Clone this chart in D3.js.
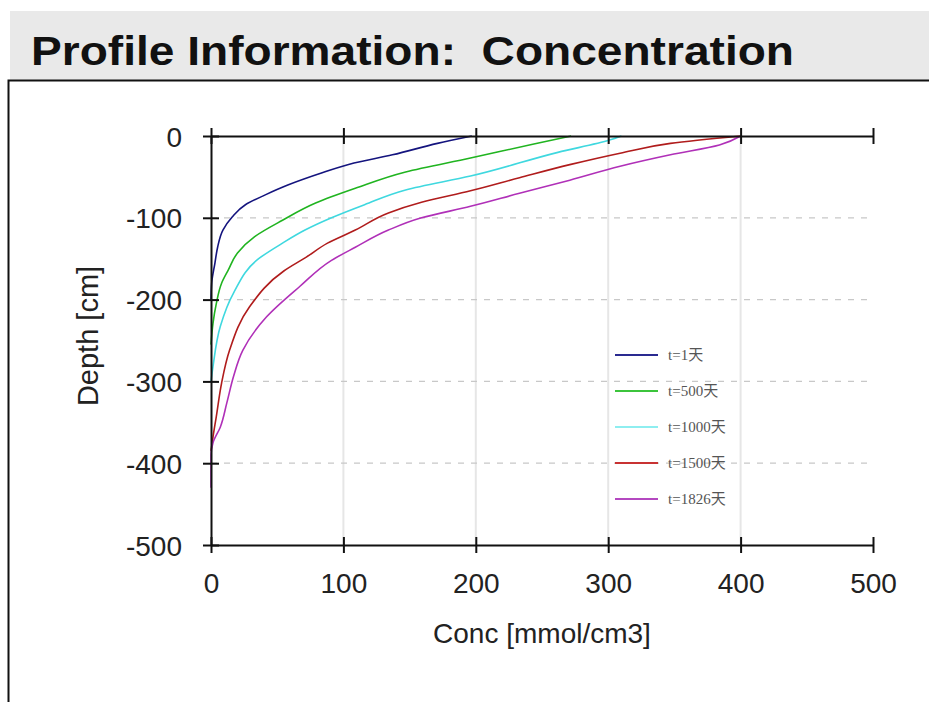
<!DOCTYPE html>
<html>
<head>
<meta charset="utf-8">
<script src="https://cdn.jsdelivr.net/npm/d3@7"></script>
<style>
  html, body { margin: 0; padding: 0; background: #ffffff; }
  svg { display: block; }
  text { white-space: pre; }
</style>
</head>
<body>
<svg id="chart" width="929" height="702"></svg>
<script>
// Concentration profiles (depth in cm, concentration in mmol/cm3)
const seriesNames = ["t=1天", "t=500天", "t=1000天", "t=1500天", "t=1826天"];
const seriesColors = ["#14147e", "#20b420", "#3fd8df", "#b01c1c", "#b030b8"];
const legendColors = ["#2a2a90", "#3cc43c", "#8eeef0", "#c83232", "#b448c0"];

const depthT1 = [0, -9, -23, -33, -45, -60, -72, -84, -99, -115, -136, -155, -180, -200];
const concT1 = [197, 171, 137, 108, 84, 58, 41, 26, 16, 9, 5, 3, 0.5, 0];

const depthT500 = [0, -10, -27, -44, -64, -82, -103, -123, -143, -164, -180, -205, -229, -255];
const concT500 = [272, 243, 196, 147, 109, 79, 54, 33, 20, 13, 8, 4, 1.5, 0];

const depthT1000 = [0, -5, -20, -49, -66, -84, -100, -115, -131, -150, -192, -233, -282, -300];
const concT1000 = [310, 301, 262, 196, 147, 116, 91, 71, 54, 36, 17, 7, 1.5, 0];

const depthT1500 = [0, -9, -21, -35, -51, -67, -81, -94, -115, -131, -148, -165, -209, -262, -302, -343, -368, -385];
const concT1500 = [400, 347, 309, 271, 233, 196, 159, 134, 109, 88, 72, 55, 29, 14, 8, 4, 1.5, 0];

const depthT1826 = [0, -11, -23, -37, -54, -70, -86, -100, -115, -136, -152, -184, -221, -262, -294, -326, -356, -375, -390, -430];
const concT1826 = [400, 384, 347, 309, 271, 233, 196, 159, 134, 109, 91, 67, 42, 24, 17, 12, 7, 1.5, 0, 0];

const seriesDepths = [depthT1, depthT500, depthT1000, depthT1500, depthT1826];
const seriesConcs = [concT1, concT500, concT1000, concT1500, concT1826];

const xTicks = [0, 100, 200, 300, 400, 500];
const yTicks = [0, -100, -200, -300, -400, -500];

const titleText = "Profile Information:  Concentration";
const xTitle = "Conc [mmol/cm3]";
const yTitle = "Depth [cm]";

const svg = d3.select("#chart");

// page frame: grey title band and the bordered plot panel
svg.append("rect").attr("x", 10).attr("y", 11).attr("width", 919).attr("height", 69)
  .attr("fill", "#e9e9e9");
svg.append("text")
  .attr("x", 31).attr("y", 65)
  .attr("font-family", "Liberation Sans, Arial, sans-serif")
  .attr("font-weight", "bold")
  .attr("font-size", 41)
  .attr("fill", "#111")
  .attr("textLength", 763)
  .attr("lengthAdjust", "spacingAndGlyphs")
  .text(titleText);
svg.append("path")
  .attr("d", "M8.5,702 L8.5,80.5 L929,80.5")
  .attr("fill", "none").attr("stroke", "#111").attr("stroke-width", 2);

const x = d3.scaleLinear().domain([0, 500]).range([211, 873]);
const y = d3.scaleLinear().domain([-500, 0]).range([545, 136]);

// grid
const grid = svg.append("g");
grid.selectAll("line.v").data(xTicks.slice(1, 5)).join("line")
  .attr("class", "v")
  .attr("x1", d => x(d)).attr("x2", d => x(d))
  .attr("y1", y(0)).attr("y2", y(-500))
  .attr("stroke", "#e6e6e6").attr("stroke-width", 2);
grid.selectAll("line.h").data(yTicks.slice(1, 5)).join("line")
  .attr("class", "h")
  .attr("x1", x(0)).attr("x2", x(500))
  .attr("y1", d => y(d)).attr("y2", d => y(d))
  .attr("stroke", "#c8c8c8").attr("stroke-width", 1.2)
  .attr("stroke-dasharray", "6,7");

// curves
const line = d3.line()
  .x(d => x(d[1]))
  .y(d => y(d[0]))
  .curve(d3.curveMonotoneY);

seriesNames.forEach((name, i) => {
  const pts = seriesDepths[i].map((dv, k) => [dv, seriesConcs[i][k]]);
  svg.append("path")
    .datum(pts)
    .attr("d", line)
    .attr("fill", "none")
    .attr("stroke", seriesColors[i])
    .attr("stroke-width", 1.6);
});

// axes
const fontAxis = "Liberation Sans, Arial, sans-serif";
const plainFormat = d => String(d);
const crossTicks = (g, horiz) => {
  g.select(".domain").attr("stroke", "#111").attr("stroke-width", 2);
  g.selectAll(".tick line").attr("stroke", "#111").attr("stroke-width", 2);
  if (horiz) g.selectAll(".tick line").attr("y1", -8).attr("y2", 8);
  else g.selectAll(".tick line").attr("x1", -8).attr("x2", 8);
};

svg.append("g")
  .attr("transform", `translate(0,${y(0)})`)
  .call(d3.axisTop(x).tickValues(xTicks).tickSizeOuter(0).tickFormat(""))
  .call(g => crossTicks(g, true));

const bottom = svg.append("g")
  .attr("transform", `translate(0,${y(-500)})`)
  .call(d3.axisBottom(x).tickValues(xTicks).tickSizeOuter(0).tickFormat(plainFormat))
  .call(g => crossTicks(g, true));
bottom.selectAll(".tick text")
  .attr("y", 48).attr("dy", 0)
  .attr("font-family", fontAxis).attr("font-size", 28).attr("fill", "#222");

const left = svg.append("g")
  .attr("transform", `translate(${x(0)},0)`)
  .call(d3.axisLeft(y).tickValues(yTicks).tickSizeOuter(0).tickFormat(plainFormat))
  .call(g => crossTicks(g, false));
left.selectAll(".tick text")
  .attr("x", -29).attr("dy", "0.36em")
  .attr("font-family", fontAxis).attr("font-size", 28).attr("fill", "#222");

// axis titles
svg.append("text")
  .attr("x", 542).attr("y", 643)
  .attr("text-anchor", "middle")
  .attr("font-family", fontAxis).attr("font-size", 28).attr("fill", "#222")
  .text(xTitle);
svg.append("text")
  .attr("transform", "translate(98,336) rotate(-90)")
  .attr("text-anchor", "middle")
  .attr("font-family", fontAxis).attr("font-size", 29).attr("fill", "#222")
  .text(yTitle);

// legend
const legend = svg.append("g");
seriesNames.forEach((name, i) => {
  const ly = 355 + i * 36;
  legend.append("line")
    .attr("x1", 615).attr("x2", 658)
    .attr("y1", ly).attr("y2", ly)
    .attr("stroke", legendColors[i]).attr("stroke-width", 2);
  legend.append("text")
    .attr("x", 668).attr("y", ly + 5)
    .attr("font-family", "Liberation Serif, 'Noto Sans CJK SC', serif")
    .attr("font-size", 15).attr("fill", "#555")
    .text(name);
});
</script>
</body>
</html>
